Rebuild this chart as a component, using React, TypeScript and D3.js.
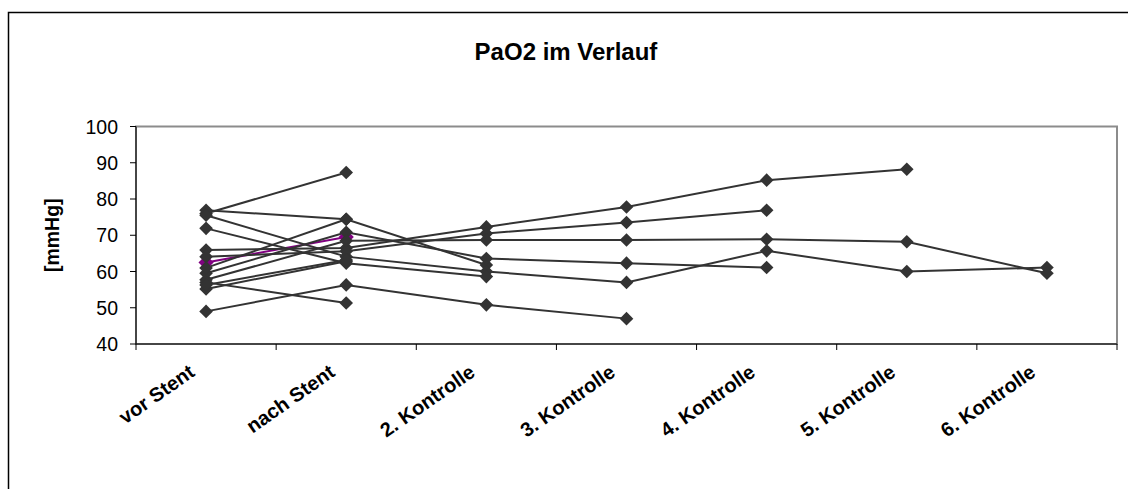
import React, { useEffect } from "react";
import * as d3 from "d3";

// Measurement time points
const categories = [
  "vor Stent",
  "nach Stent",
  "2. Kontrolle",
  "3. Kontrolle",
  "4. Kontrolle",
  "5. Kontrolle",
  "6. Kontrolle",
];

const yTicks = [40, 50, 60, 70, 80, 90, 100];

// PaO2 [mmHg] per patient over the time points (null = not measured)
const patient01 = [76.0, 87.3, null, null, null, null, null];
const patient02 = [76.9, 74.4, 61.8, null, null, null, null];
const patient03 = [75.5, 64.1, 60.0, 57.0, 65.7, 60.0, 61.1];
const patient04 = [71.9, 62.3, 58.6, null, null, null, null];
const patient05 = [65.9, 66.5, 72.3, 77.8, 85.2, 88.2, null];
const patient06 = [64.1, 65.6, 70.5, 73.5, 76.9, null, null];
const patient07 = [59.5, 70.8, 63.6, 62.3, 61.1, null, null];
const patient08 = [57.7, 68.5, 68.7, 68.7, 68.9, 68.2, 59.5];
const patient09 = [61.0, 74.4, null, null, null, null, null];
const patient10 = [57.0, 51.3, null, null, null, null, null];
const patient11 = [49.0, 56.3, 50.8, 47.0, null, null, null];
const patient12 = [55.2, 62.8, null, null, null, null, null];
const patient13 = [56.3, 63.2, null, null, null, null, null];
const patient14 = [62.5, 69.5, null, null, null, null, null];

const darkSeries = [
  patient01, patient02, patient03, patient04, patient05, patient06, patient07,
  patient08, patient09, patient10, patient11, patient12, patient13,
];
const purpleSeries = [patient14];

const W = 1128;
const H = 489;
const plot = { left: 136, right: 1117, top: 126.5, bottom: 344 };

export default function App() {
  useEffect(() => {
    document.body.style.margin = "0";
  }, []);

  const x = d3
    .scaleBand<string>()
    .domain(categories)
    .range([plot.left, plot.right])
    .paddingInner(0)
    .paddingOuter(0);
  const cx = (i: number) => (x(categories[i]) as number) + x.bandwidth() / 2;
  const y = d3.scaleLinear().domain([40, 100]).range([plot.bottom, plot.top]);

  const line = d3
    .line<number | null>()
    .defined((d) => d != null)
    .x((_, i) => cx(i))
    .y((d) => y(d as number));

  const diamond = (px: number, py: number, r = 6.8) =>
    `M${px},${py - r}L${px + r},${py}L${px},${py + r}L${px - r},${py}Z`;

  const font = "'Liberation Sans', Arial, sans-serif";
  const boundaries = d3.range(categories.length + 1).map(
    (i) => plot.left + i * x.bandwidth()
  );

  return (
    <svg width={W} height={H} style={{ display: "block", background: "#fff" }}>
      {/* chart frame */}
      <rect x={8.5} y={12.5} width={1200} height={600} fill="#fff" stroke="#000" strokeWidth={1.5} />

      <text x={566} y={60} textAnchor="middle" fontFamily={font} fontWeight="bold" fontSize={24}>
        PaO2 im Verlauf
      </text>

      {/* plot area border */}
      <rect
        x={plot.left}
        y={plot.top}
        width={plot.right - plot.left}
        height={plot.bottom - plot.top}
        fill="#fff"
        stroke="#8c8c8c"
        strokeWidth={2}
      />

      {/* y axis */}
      <line x1={plot.left} x2={plot.left} y1={plot.top} y2={plot.bottom} stroke="#000" strokeWidth={1} />
      {yTicks.map((t) => (
        <g key={t}>
          <line x1={plot.left - 6} x2={plot.left} y1={y(t)} y2={y(t)} stroke="#000" />
          <text
            x={118}
            y={y(t)}
            dy="0.36em"
            textAnchor="end"
            fontFamily={font}
            fontSize={19.5}
          >
            {t}
          </text>
        </g>
      ))}
      <text
        transform={`translate(59,${(plot.top + plot.bottom) / 2}) rotate(-90)`}
        textAnchor="middle"
        fontFamily={font}
        fontWeight="bold"
        fontSize={19.5}
      >
        [mmHg]
      </text>

      {/* x axis */}
      <line x1={plot.left} x2={plot.right} y1={plot.bottom} y2={plot.bottom} stroke="#000" />
      {boundaries.map((bx, i) => (
        <line key={i} x1={bx} x2={bx} y1={plot.bottom} y2={plot.bottom + 6} stroke="#000" />
      ))}
      {categories.map((c, i) => (
        <text
          key={c}
          transform={`translate(${cx(i) - 10},${375}) rotate(-35)`}
          textAnchor="end"
          fontFamily={font}
          fontWeight="bold"
          fontSize={20}
        >
          {c}
        </text>
      ))}

      {/* series lines */}
      {purpleSeries.map((s, k) => (
        <path key={"p" + k} d={line(s) || ""} fill="none" stroke="#800080" strokeWidth={2} />
      ))}
      {darkSeries.map((s, k) => (
        <path key={"l" + k} d={line(s) || ""} fill="none" stroke="#333" strokeWidth={2} />
      ))}

      {/* markers */}
      {purpleSeries.map((s, k) =>
        s.map((v, i) =>
          v == null ? null : (
            <path key={`pm${k}-${i}`} d={diamond(cx(i), y(v), 7.6)} fill="#800080" />
          )
        )
      )}
      {darkSeries.map((s, k) =>
        s.map((v, i) =>
          v == null ? null : (
            <path key={`m${k}-${i}`} d={diamond(cx(i), y(v))} fill="#333" />
          )
        )
      )}
    </svg>
  );
}
